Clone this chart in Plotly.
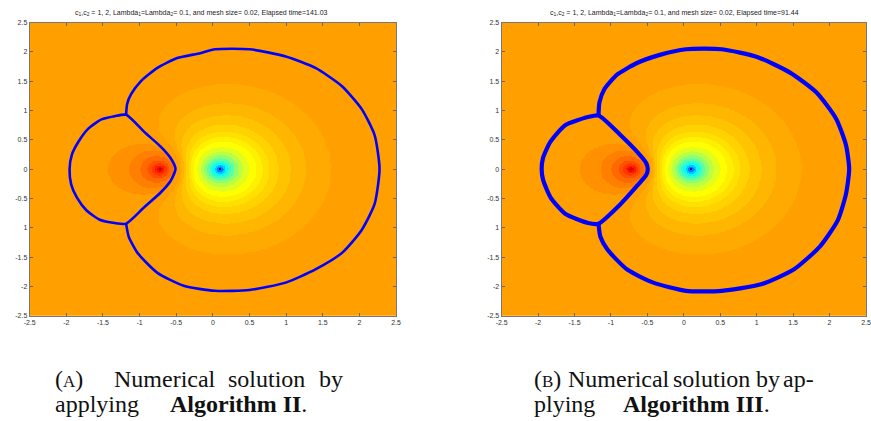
import numpy as np
import plotly.graph_objects as go

# ---------------- data ----------------
tick_vals = [-2.5, -2, -1.5, -1, -0.5, 0, 0.5, 1, 1.5, 2, 2.5]
x_tick_text = ["-2.5", "-2", "-1.5", "-1", "-0.5", "0", "0.5", "1", "1.5", "2", "2.5"]
y_tick_text = ["-2.5", "-2", "-1.5", "1", "-0.5", "0", "0.5", "1", "1.5", "2", "2.5"]

panel_titles = [
    "c<sub>1</sub>,c<sub>2</sub> = 1, 2, Lambda<sub>1</sub>=Lambda<sub>2</sub>= 0.1, and mesh size= 0.02, Elapsed time=141.03",
    "c<sub>1</sub>,c<sub>2</sub> = 1, 2, Lambda<sub>1</sub>=Lambda<sub>2</sub>= 0.1, and mesh size= 0.02, Elapsed time=91.44",
]
# caption words: (text, x pixel, anchor, line)
caption_words = [
    ("(<span style='font-size:17px'>A</span>)", 48, "left", 0),
    ("Numerical", 107, "left", 0),
    ("solution", 223, "left", 0),
    ("by", 343, "right", 0),
    ("applying", 48, "left", 1),
    ("<b>Algorithm II</b>.", 307, "right", 1),
    ("(<span style='font-size:17px'>B</span>)", 533, "left", 0),
    ("Numerical", 567, "left", 0),
    ("solution", 673, "left", 0),
    ("by", 758, "left", 0),
    ("ap-", 820, "right", 0),
    ("plying", 533, "left", 1),
    ("<b>Algorithm III</b>.", 776, "right", 1),
]

# field: two point sources (red = positive, blue = negative)
red_source = (-0.72, 0.0)
blue_source = (0.10, 0.0)
red_kernel_len = 0.45
blue_kernel_len = 1.2

# contour bands: distance from the source where each band starts (outer -> inner)
blue_band_radii = [1.45, 1.12, 0.92, 0.76, 0.64, 0.55, 0.47, 0.38, 0.30, 0.24, 0.19, 0.15, 0.11, 0.075, 0.045, 0.02]
blue_band_colors = ["rgb(255,170,0)", "rgb(255,182,0)", "rgb(255,195,0)", "rgb(255,210,0)",
                    "rgb(255,225,0)", "rgb(255,240,0)", "rgb(255,255,0)", "rgb(225,255,30)",
                    "rgb(185,255,70)", "rgb(140,255,115)", "rgb(95,255,160)", "rgb(50,255,205)",
                    "rgb(10,250,245)", "rgb(0,200,255)", "rgb(0,120,255)", "rgb(0,0,170)"]
red_band_radii = [0.71, 0.42, 0.27, 0.17, 0.11, 0.07, 0.04, 0.015]
red_band_colors = ["rgb(255,145,0)", "rgb(255,128,0)", "rgb(255,105,0)", "rgb(255,80,0)",
                   "rgb(255,55,0)", "rgb(255,25,0)", "rgb(240,0,0)", "rgb(160,0,0)"]
background_color = "rgb(255,160,0)"

# blue interface curves, panel A
a_small_x = [-1.184, -1.34, -1.52, -1.70, -1.835, -1.925, -1.956, -1.934, -1.857, -1.723, -1.543, -1.34, -1.184,
             -0.937, -0.712, -0.577, -0.51, -0.577, -0.712, -0.937, -1.184]
a_small_y = [0.928, 0.905, 0.85, 0.693, 0.469, 0.246, 0.005, -0.258, -0.481, -0.705, -0.862, -0.918, -0.929,
             -0.649, -0.398, -0.202, 0.005, 0.19, 0.385, 0.637, 0.928]
a_big_x = [-1.184, -1.17, -1.116, -0.981, -0.757, -0.487, -0.173, 0.03, 0.5, 0.995, 1.4, 1.759, 2.03, 2.208, 2.275,
           2.208, 2.03, 1.759, 1.4, 0.995, 0.5, 0.03, -0.397, -0.757, -1.026, -1.148, -1.184]
a_big_y = [0.928, 1.113, 1.28, 1.504, 1.728, 1.896, 1.98, 2.047, 2.047, 1.924, 1.728, 1.42, 1.029, 0.581, 0.005,
           -0.593, -1.04, -1.432, -1.71, -1.935, -2.06, -2.075, -1.99, -1.768, -1.432, -1.153, -0.929]

# blue interface curves, panel B
b_small_x = [-1.171, -1.315, -1.628, -1.83, -1.933, -1.951, -1.933, -1.83, -1.628, -1.315, -1.171,
             -0.867, -0.643, -0.517, -0.495, -0.517, -0.643, -0.867, -1.171]
b_small_y = [0.917, 0.89, 0.75, 0.47, 0.19, 0.005, -0.174, -0.48, -0.76, -0.918, -0.929,
             -0.593, -0.286, -0.1, 0.005, 0.106, 0.3, 0.581, 0.917]
b_big_x = [-1.171, -1.158, -1.091, -0.912, -0.643, -0.329, 0.029, 0.522, 1.015, 1.463, 1.821, 2.09, 2.225, 2.269,
           2.225, 2.112, 1.866, 1.508, 1.06, 0.522, 0.029, -0.419, -0.777, -1.046, -1.145, -1.171]
b_big_y = [0.917, 1.14, 1.364, 1.616, 1.812, 1.951, 2.047, 2.047, 1.912, 1.644, 1.308, 0.861, 0.413, 0.005,
           -0.425, -0.873, -1.32, -1.712, -1.964, -2.075, -2.075, -1.935, -1.712, -1.376, -1.153, -0.929]


# ---------------- field construction ----------------
def kernel(r, L):
    return np.log1p((L / np.maximum(r, 1e-6)) ** 2)


def field(X, Y):
    r1 = np.hypot(X - red_source[0], Y - red_source[1])
    r2 = np.hypot(X - blue_source[0], Y - blue_source[1])
    return kernel(r1, red_kernel_len) - kernel(r2, blue_kernel_len)


def inside_polygon(px, py, X, Y):
    res = np.zeros(X.shape, dtype=bool)
    n = len(px)
    j = n - 1
    for i in range(n):
        xi, yi, xj, yj = px[i], py[i], px[j], py[j]
        if yi != yj:
            cond = ((yi > Y) != (yj > Y)) & (X < (xj - xi) * (Y - yi) / (yj - yi) + xi)
            res ^= cond
        j = i
    return res


N = 451
gx = np.linspace(-2.5, 2.5, N)
gy = np.linspace(-2.5, 2.5, N)
GX, GY = np.meshgrid(gx, gy)
U = field(GX, GY)

blue_code = np.zeros_like(U, dtype=int)
for i, r in enumerate(blue_band_radii):
    t = field(np.array(blue_source[0]), np.array(blue_source[1] + r))
    blue_code[U < t] = -(i + 1)
red_code = np.zeros_like(U, dtype=int)
for i, r in enumerate(red_band_radii):
    t = field(np.array(red_source[0] - r), np.array(red_source[1]))
    red_code[U > t] = i + 1


def panel_code(loop_x, loop_y):
    inside = inside_polygon(loop_x, loop_y, GX, GY)
    return np.where(inside, red_code, blue_code)


nb, nr = len(blue_band_colors), len(red_band_colors)
ordered = blue_band_colors[::-1] + [background_color] + red_band_colors
n = len(ordered)
cscale = []
for k, c in enumerate(ordered):
    cscale.append([k / n, c])
    cscale.append([(k + 1) / n, c])

# ---------------- figure ----------------
W, H = 871, 421
fig = go.Figure()

panels = [("x", "y", a_small_x, a_small_y, a_big_x, a_big_y, 2.6),
          ("x2", "y2", b_small_x, b_small_y, b_big_x, b_big_y, 4.2)]
for xa, ya, sx, sy, bx, by, lw in panels:
    fig.add_trace(go.Heatmap(x=gx, y=gy, z=panel_code(sx, sy), colorscale=cscale, zmin=-nb - 0.5, zmax=nr + 0.5,
                             showscale=False, hoverinfo="skip", xaxis=xa, yaxis=ya))
    for cx_, cy_ in [(sx, sy), (bx, by)]:
        fig.add_trace(go.Scatter(x=cx_, y=cy_, mode="lines",
                                 line=dict(color="rgb(0,0,255)", width=lw, shape="spline", smoothing=0.6),
                                 showlegend=False, hoverinfo="skip", xaxis=xa, yaxis=ya))

axis_common = dict(range=[-2.5, 2.5], tickvals=tick_vals, ticks="inside", ticklen=3, tickcolor="#666",
                   showline=True, linecolor="#777", linewidth=1, mirror="ticks", showgrid=False, zeroline=False,
                   tickfont=dict(family="Liberation Sans, Arial", size=7, color="#333"), fixedrange=True)

ytop, ybot = 1 - 19 / H, 1 - 317 / H
fig.update_layout(
    width=W, height=H, margin=dict(l=0, r=0, t=0, b=0),
    paper_bgcolor="white", plot_bgcolor="white", showlegend=False,
    xaxis=dict(domain=[24 / W, 395 / W], anchor="y", ticktext=x_tick_text, **axis_common),
    yaxis=dict(domain=[ybot, ytop], anchor="x", ticktext=y_tick_text, **axis_common),
    xaxis2=dict(domain=[502 / W, 1.0], anchor="y2", ticktext=x_tick_text, **axis_common),
    yaxis2=dict(domain=[ybot, ytop], anchor="x2", ticktext=y_tick_text, **axis_common),
)

# titles
for cx, txt in [(198, panel_titles[0]), (677, panel_titles[1])]:
    fig.add_annotation(x=cx / W, y=1 - 9 / H, xref="paper", yref="paper", text=txt, showarrow=False,
                       xanchor="center", yanchor="middle",
                       font=dict(family="Liberation Sans, Arial", size=7, color="#222"))

# captions
cap_font = dict(family="Liberation Serif, DejaVu Serif, serif", size=24, color="#111")
for txt, px_, anchor, line in caption_words:
    fig.add_annotation(x=px_ / W, y=1 - (381 + 26 * line) / H, xref="paper", yref="paper", text=txt,
                       showarrow=False, xanchor=anchor, yanchor="middle", font=cap_font)

fig.write_html("out.html", config={"displayModeBar": False},
               post_script="document.body.style.margin='0px';document.body.style.overflow='hidden';")
